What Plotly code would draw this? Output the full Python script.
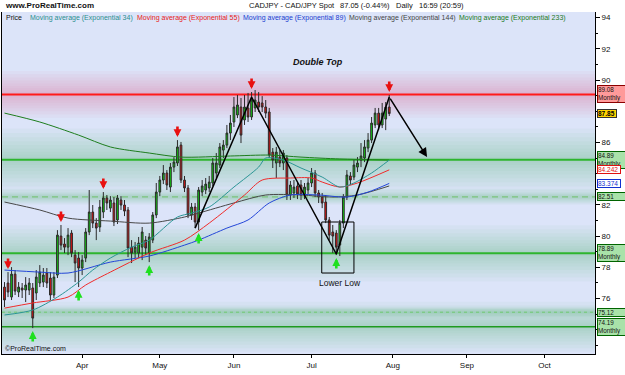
import plotly.graph_objects as go
import pandas as pd

# ---------------- data ----------------
dates = pd.bdate_range("2009-03-02", "2009-07-31")

opens = [76.73, 76.99, 76.09, 77.56, 76.41, 76.67, 76.54, 76.54, 76.67, 76.35,
         76.99, 77.05, 77.63, 77.31, 76.22, 77.50, 80.00, 79.49, 79.29, 80.19,
         78.78, 78.59, 77.95, 78.59, 80.26, 81.54, 80.83, 80.58, 81.54, 82.44,
         81.79, 82.12, 81.03, 82.31, 81.99, 81.67, 79.29, 78.97, 78.91, 79.29,
         79.74, 78.91, 79.74, 81.35, 82.82, 83.59, 84.04, 83.14, 84.42, 84.68,
         85.83, 83.59, 83.08, 81.35, 81.86, 80.90, 82.82, 82.95, 83.08, 83.40,
         84.04, 84.55, 85.51, 85.83, 86.60, 87.31, 87.76, 88.27, 87.44, 88.21,
         87.63, 88.21, 88.59, 88.53, 88.27, 87.95, 85.38, 84.68, 85.06, 84.68,
         85.00, 82.63, 82.76, 83.21, 83.27, 82.63, 82.95, 83.40, 84.04, 82.76,
         82.50, 82.18, 81.03, 80.26, 80.19, 79.42, 80.83, 82.50, 83.85, 83.78,
         84.42, 84.87, 85.00, 85.64, 86.15, 87.12, 87.88, 87.12, 87.50, 88.27]
highs = [77.05, 77.69, 78.01, 77.82, 77.05, 76.99, 77.37, 77.31, 76.99, 77.82,
         78.14, 77.95, 77.95, 77.69, 77.69, 80.38, 80.71, 79.87, 80.51, 80.38,
         79.10, 78.97, 78.78, 80.51, 82.95, 81.99, 81.15, 82.31, 82.82, 82.63,
         82.56, 82.50, 82.63, 82.56, 82.31, 81.86, 79.74, 79.62, 79.94, 80.58,
         80.00, 80.19, 81.54, 83.40, 83.85, 84.55, 84.23, 84.68, 85.06, 86.15,
         86.03, 83.85, 83.27, 82.12, 82.12, 83.14, 83.59, 83.72, 83.85, 85.00,
         85.32, 85.96, 86.15, 87.12, 87.76, 88.91, 89.04, 88.85, 89.04, 89.17,
         89.23, 89.36, 89.23, 88.97, 88.72, 88.21, 85.64, 85.71, 85.51, 85.51,
         85.19, 83.53, 83.59, 83.46, 83.59, 83.40, 83.72, 84.36, 84.23, 82.95,
         82.76, 82.63, 81.22, 80.71, 80.38, 81.03, 82.69, 84.23, 84.10, 84.87,
         85.06, 85.96, 86.15, 86.60, 87.63, 88.21, 88.21, 88.53, 88.59, 89.04]
lows = [75.45, 76.09, 75.90, 76.22, 76.09, 76.03, 75.77, 76.22, 74.10, 75.90,
        76.73, 76.73, 76.67, 75.90, 76.03, 77.31, 79.10, 78.91, 78.78, 78.65,
        77.05, 76.73, 77.50, 78.33, 80.06, 80.51, 79.74, 80.26, 81.15, 81.67,
        81.54, 80.64, 80.77, 81.67, 81.28, 78.65, 78.27, 78.59, 78.59, 78.46,
        78.78, 78.33, 79.55, 81.15, 82.56, 83.33, 82.95, 82.82, 84.10, 84.49,
        83.40, 82.82, 81.15, 81.03, 80.51, 80.38, 82.56, 82.69, 82.82, 83.21,
        83.72, 84.36, 85.00, 85.64, 86.15, 86.99, 87.56, 85.96, 87.12, 87.31,
        87.44, 87.95, 87.95, 87.95, 87.56, 85.00, 84.36, 83.72, 84.42, 84.23,
        82.31, 82.31, 82.44, 82.37, 82.31, 82.37, 82.69, 83.14, 82.50, 82.12,
        81.79, 80.83, 79.74, 78.91, 78.78, 78.72, 80.51, 82.31, 83.27, 83.59,
        84.10, 84.42, 84.74, 85.38, 85.96, 86.92, 86.79, 86.92, 86.79, 87.69]
closes = [75.90, 76.41, 77.56, 76.47, 76.73, 76.54, 76.86, 76.99, 74.74, 77.37,
          77.69, 77.50, 76.99, 76.22, 77.37, 80.06, 79.42, 79.29, 80.06, 78.91,
          78.27, 77.95, 78.46, 80.26, 81.54, 80.83, 80.51, 81.86, 82.44, 82.12,
          82.31, 80.90, 82.44, 81.99, 81.60, 79.23, 78.91, 79.29, 79.55, 80.26,
          79.23, 79.94, 81.35, 82.82, 83.59, 84.04, 83.27, 84.42, 84.74, 85.71,
          83.59, 83.08, 81.35, 81.86, 80.90, 82.95, 83.21, 83.33, 83.46, 84.68,
          84.68, 85.71, 85.83, 86.60, 87.24, 88.27, 88.40, 86.47, 88.27, 87.63,
          88.72, 88.72, 88.27, 88.27, 87.88, 85.19, 84.87, 85.38, 84.68, 85.32,
          82.63, 83.27, 83.14, 82.69, 82.63, 83.14, 83.40, 84.04, 82.76, 82.50,
          82.12, 81.03, 80.06, 80.00, 79.29, 80.83, 82.50, 83.91, 83.59, 84.55,
          84.68, 85.13, 85.71, 86.15, 87.24, 87.88, 87.12, 87.88, 88.27, 87.85]

# moving averages (trading-day index -> value)
ema34_idx = [0, 8, 15, 21, 25, 30, 36, 41, 49, 53, 58, 65, 72, 74, 79, 84, 90, 95, 99, 104, 109]
ema34_val = [74.94, 75.26, 76.09, 77.05, 77.82, 78.59, 79.29, 79.74, 81.22, 81.47, 81.86,
             83.14, 84.42, 85.00, 84.87, 84.36, 83.78, 83.14, 83.40, 84.04, 84.87]
ema55_idx = [0, 8, 18, 23, 30, 41, 51, 58, 68, 73, 81, 87, 90, 95, 100, 109]
ema55_val = [75.38, 75.71, 76.09, 76.86, 77.69, 78.91, 79.74, 80.83, 82.63, 83.59, 83.72,
             83.72, 83.46, 83.14, 83.40, 84.242]
ema89_idx = [0, 10, 18, 30, 41, 51, 55, 63, 69, 75, 81, 89, 97, 103, 109]
ema89_val = [77.82, 77.69, 77.63, 78.33, 78.72, 79.42, 79.74, 80.51, 81.03, 82.12, 82.63,
             82.63, 82.50, 82.82, 83.374]
ema144_idx = [0, 10, 18, 30, 41, 51, 55, 65, 74, 84, 93, 100, 109]
ema144_val = [82.18, 81.67, 81.15, 80.96, 80.83, 81.22, 81.47, 82.12, 82.63, 82.63, 82.50,
              82.63, 83.21]
ema233_idx = [0, 10, 21, 30, 41, 50, 64, 75, 84, 95, 109]
ema233_val = [87.88, 87.31, 86.47, 85.71, 85.32, 85.06, 85.13, 85.19, 85.06, 84.94, 84.87]

# horizontal levels
level_values = [89.08, 84.89, 82.51, 78.89, 75.12, 74.19]
level_texts = ["89.08<br>Monthly", "84.89<br>Monthly", "82.51", "78.89<br>Monthly", "75.12", "74.19<br>Monthly"]
level_colors = ["#ff1a1a", "#2db52d", "#7cc47c", "#2db52d", "#70c870", "#1f9a1f"]
level_widths = [2, 2, 1.2, 2, 1, 1.5]
level_dash = ["solid", "solid", "6px,4px", "solid", "dot", "solid"]
level_box_fill = ["#ff9a9a", "#a9e2a9", "#a9e2a9", "#a9e2a9", "#a9e2a9", "#a9e2a9"]
level_box_line = ["#8b0000", "#006400", "#006400", "#006400", "#006400", "#006400"]
glow_spread = [1.5, 2.0, 0.5, 1.8, 0.35, 1.6]
glow_colors = ["rgb(232,130,175)", "rgb(125,190,150)", "rgb(125,190,150)",
               "rgb(125,190,150)", "rgb(125,190,150)", "rgb(125,190,150)"]
glow_opacity = [0.075, 0.065, 0.065, 0.065, 0.065, 0.065]
glow_steps = [1.0, 0.86, 0.72, 0.59, 0.47, 0.36, 0.26, 0.17, 0.09]

# y tick labels (some hidden behind the level boxes in the original)
ytick_vals = [74, 76, 78, 80, 82, 84, 86, 88, 90, 92, 94]
ytick_text = ["", "76", "78", "80", "82", "", "86", "", "90", "92", "94"]

# signals
red_arrow_idx = [1, 16, 28, 49, 70, 109]
green_arrow_idx = [8, 21, 41, 55, 94]

# pattern drawing
zigzag_idx = [54, 70, 94, 109]
zigzag_val = [80.51, 88.91, 78.85, 88.91]
arrow_end = ("2009-08-14 17:00", 85.06)
box_x = ["2009-07-03 21:00", "2009-07-17"]
box_y = [77.63, 80.90]

month_ticks = ["2009-04-01", "2009-05-01", "2009-06-01", "2009-07-01", "2009-08-03", "2009-09-01", "2009-10-01"]
month_labels = ["Apr", "May", "Jun", "Jul", "Aug", "Sep", "Oct"]

FONT = "Liberation Sans, Arial, sans-serif"

fig = go.Figure()

fig.add_trace(go.Candlestick(
    x=dates, open=opens, high=highs, low=lows, close=closes,
    increasing=dict(fillcolor="#11d011", line=dict(color="#2a2a2a", width=1)),
    decreasing=dict(fillcolor="#e81010", line=dict(color="#2a2a2a", width=1)),
    showlegend=False, hoverinfo="skip"))

ema_specs = [(ema233_idx, ema233_val, "#1e7e1e"), (ema144_idx, ema144_val, "#484848"),
             (ema89_idx, ema89_val, "#2446d8"), (ema55_idx, ema55_val, "#f02b2b"),
             (ema34_idx, ema34_val, "#2b9595")]
for idx, vals, col in ema_specs:
    fig.add_trace(go.Scatter(x=[dates[i] for i in idx], y=vals, mode="lines",
                             line=dict(color=col, width=1, shape="spline", smoothing=0.8),
                             showlegend=False, hoverinfo="skip"))

# zigzag
fig.add_trace(go.Scatter(x=[dates[i] for i in zigzag_idx], y=zigzag_val, mode="lines",
                         line=dict(color="black", width=1.5), showlegend=False, hoverinfo="skip"))
fig.add_annotation(x=arrow_end[0], y=arrow_end[1], ax=dates[zigzag_idx[-1]], ay=zigzag_val[-1],
                   xref="x", yref="y", axref="x", ayref="y", showarrow=True,
                   arrowhead=2, arrowsize=1.2, arrowwidth=1.5, arrowcolor="black", text="")

shapes = []
# glows
for lv, sp, gc, op in zip(level_values, glow_spread, glow_colors, glow_opacity):
    for frac in glow_steps:
        shapes.append(dict(type="rect", xref="paper", x0=0, x1=1, yref="y",
                           y0=lv - sp * frac, y1=lv + sp * frac, fillcolor=gc,
                           opacity=op, line=dict(width=0), layer="below"))
for lv, col, w, d in zip(level_values, level_colors, level_widths, level_dash):
    shapes.append(dict(type="line", xref="paper", x0=0, x1=1, yref="y", y0=lv, y1=lv,
                       line=dict(color=col, width=w, dash=d), layer="below"))
shapes.append(dict(type="rect", xref="x", yref="y", x0=box_x[0], x1=box_x[1],
                   y0=box_y[0], y1=box_y[1], line=dict(color="black", width=1)))
fig.update_layout(shapes=shapes)

# signal arrows
for i in red_arrow_idx:
    fig.add_annotation(x=dates[i], y=highs[i], ax=0, ay=-15, standoff=3, showarrow=True,
                       arrowhead=2, arrowsize=0.6, arrowwidth=2.6, arrowcolor="#e81010", text="")
for i in green_arrow_idx:
    fig.add_annotation(x=dates[i], y=lows[i], ax=0, ay=15, standoff=3, showarrow=True,
                       arrowhead=2, arrowsize=0.6, arrowwidth=2.6, arrowcolor="#1fe01f", text="")

# right-hand level labels
for lv, t, fc, lc in zip(level_values, level_texts, level_box_fill, level_box_line):
    fig.add_annotation(x=1, xref="paper", xanchor="left", xshift=2, y=lv, yref="y",
                       text=t, showarrow=False, align="left", width=30,
                       font=dict(family=FONT, size=6.3, color="#111"),
                       bgcolor=fc, bordercolor=lc, borderwidth=1, borderpad=0)
fig.add_annotation(x=1, xref="paper", xanchor="left", xshift=2, y=closes[-1], yref="y",
                   text="<b>%.2f</b>" % closes[-1], showarrow=False, align="left", width=18,
                   font=dict(family=FONT, size=6.5, color="#000"),
                   bgcolor="#ffd400", bordercolor="#333", borderwidth=1, borderpad=0)
fig.add_annotation(x=1, xref="paper", xanchor="left", xshift=2, y=ema55_val[-1], yref="y",
                   text="%.3f" % ema55_val[-1], showarrow=False, align="left", width=22,
                   font=dict(family=FONT, size=6.5, color="#e01010"),
                   bgcolor="white", bordercolor="#e01010", borderwidth=1, borderpad=0)
fig.add_annotation(x=1, xref="paper", xanchor="left", xshift=2, y=ema89_val[-1], yref="y",
                   text="%.3f" % ema89_val[-1], showarrow=False, align="left", width=22,
                   font=dict(family=FONT, size=6.5, color="#1030d0"),
                   bgcolor="white", bordercolor="#1030d0", borderwidth=1, borderpad=0)

# header texts
hdr = [("www.ProRealTime.com", 3, 8, True),
       ("CADJPY - CAD/JPY Spot", 247, 7.5, False),
       ("87.05 (-0.44%)", 338, 7.5, False),
       ("Daily", 394, 7.5, False),
       ("16:59 (20:59)", 417, 7.5, False)]
for t, px, sz, b in hdr:
    fig.add_annotation(x=(px - 2) / 593, xref="paper", y=1, yref="paper", yanchor="bottom",
                       xanchor="left", text=("<b>%s</b>" % t) if b else t, showarrow=False,
                       font=dict(family=FONT, size=sz, color="#111"))

legend_items = [("Price", "#111", 4), ("Moving average (Exponential 34)", "#2b8f8f", 28),
                ("Moving average (Exponential 55)", "#e82020", 135),
                ("Moving average (Exponential 89)", "#2040d0", 241),
                ("Moving average (Exponential 144)", "#444444", 347),
                ("Moving average (Exponential 233)", "#1a7a1a", 457)]
for t, col, px in legend_items:
    fig.add_annotation(x=(px - 2) / 593, xref="paper", y=1, yref="paper", yanchor="top",
                       xanchor="left", text=t, showarrow=False,
                       font=dict(family=FONT, size=7, color=col))

fig.add_annotation(x=0, xref="paper", y=0, yref="paper", xanchor="left", yanchor="bottom",
                   text="©ProRealTime.com", showarrow=False, xshift=1,
                   font=dict(family=FONT, size=7, color="#111"))
fig.add_annotation(x="2009-07-02 19:00", y=91.15, text="<b><i>Double Top</i></b>", showarrow=False,
                   font=dict(family=FONT, size=9, color="#111"))
fig.add_annotation(x="2009-07-13", y=76.99, text="Lower Low", showarrow=False,
                   font=dict(family=FONT, size=8.5, color="#111"))

fig.update_layout(
    width=625, height=375,
    margin=dict(l=2, r=30, t=12, b=21),
    paper_bgcolor="white", plot_bgcolor="#dce4f9",
    showlegend=False,
    xaxis=dict(type="date", range=["2009-02-27 07:00", "2009-10-21 07:00"],
               rangebreaks=[dict(bounds=["sat", "mon"])],
               rangeslider=dict(visible=False),
               tickvals=month_ticks, ticktext=month_labels,
               ticks="outside", ticklen=3, tickcolor="black",
               showgrid=False, zeroline=False, showline=True, linecolor="black", linewidth=1,
               tickfont=dict(family=FONT, size=8, color="#111")),
    yaxis=dict(side="right", range=[72.44, 94.36], tickvals=ytick_vals, ticktext=ytick_text,
               ticks="outside", ticklen=4,
               tickcolor="black", showgrid=False, zeroline=False, showline=True,
               linecolor="black", linewidth=1, mirror=True,
               minor=dict(dtick=1, ticks="outside", ticklen=2, tickcolor="black"),
               tickfont=dict(family=FONT, size=8, color="#111")),
)

fig.write_html("out.html")
